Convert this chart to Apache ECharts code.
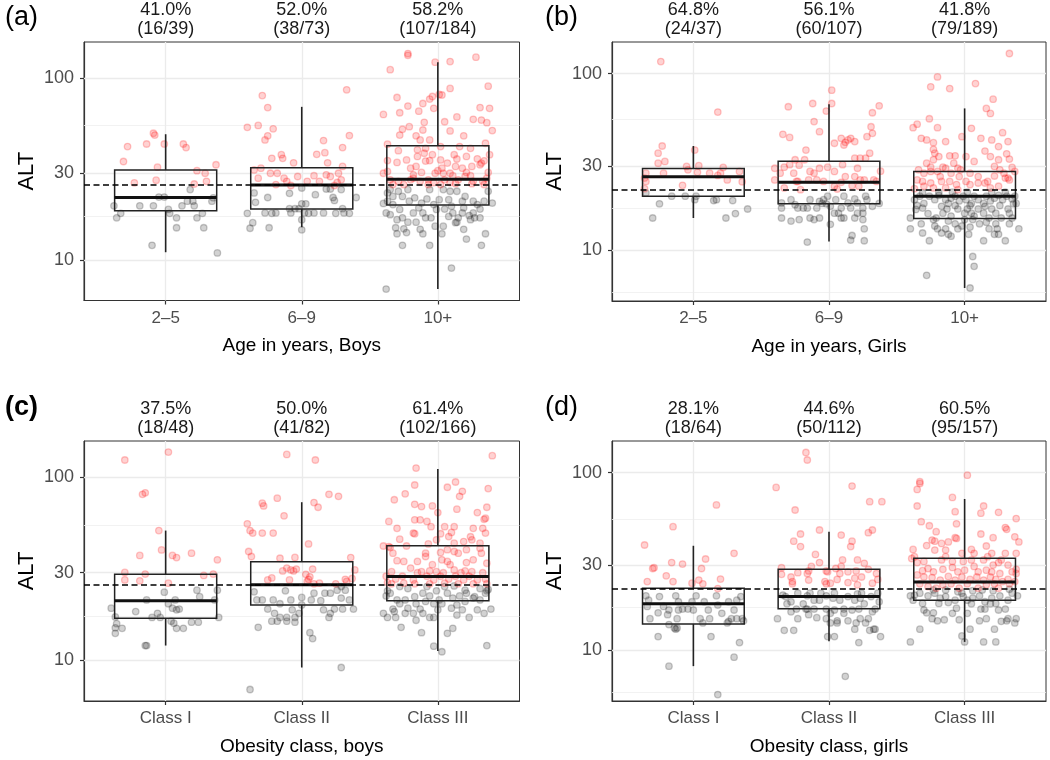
<!DOCTYPE html>
<html><head><meta charset="utf-8">
<script src="https://cdn.jsdelivr.net/npm/echarts@6/dist/echarts.min.js"></script>
<style>html,body{margin:0;padding:0;background:#fff}#chart{width:1050px;height:760px}</style>
</head><body><div id="chart"></div>
<script>
const ageCats = ['2–5', '6–9', '10+'];
const classCats = ['Class I', 'Class II', 'Class III'];
const aPct = ['41.0%', '52.0%', '58.2%'];  const aFrac = ['(16/39)', '(38/73)', '(107/184)'];
const bPct = ['64.8%', '56.1%', '41.8%'];  const bFrac = ['(24/37)', '(60/107)', '(79/189)'];
const cPct = ['37.5%', '50.0%', '61.4%'];  const cFrac = ['(18/48)', '(41/82)', '(102/166)'];
const dPct = ['28.1%', '44.6%', '60.5%'];  const dFrac = ['(18/64)', '(50/112)', '(95/157)'];
const thresholdBoys = 25.8;
const thresholdGirls = 22.1;
const yTicks = [10, 30, 100];
const yMinorBoys = [17.3, 54.8];
const yMinorGirls = [5.77, 17.3, 54.8];
// box stats per category: [lower whisker, Q1, median, Q3, upper whisker]
const aBox = [[11.0, 18.6, 22.0, 31.2, 49], [15.1, 19.0, 25.8, 32.1, 69.3], [6.9, 20.0, 27.7, 42.3, 122]];
const bBox = [[15.2, 20.2, 26.0, 29.0, 38.9], [11.2, 18.3, 24.2, 31.9, 67.1], [6.1, 15.1, 20.2, 27.9, 63.5]];
const cBox = [[12.0, 16.9, 21.1, 29.4, 51.0], [9.1, 20.0, 25.8, 34.5, 72.9], [11.2, 21.1, 28.6, 42.1, 110.7]];
const dBox = [[8.1, 14.0, 18.2, 22.3, 38.7], [11.2, 17.1, 20.0, 28.5, 46.4], [11.1, 19.1, 24.2, 32.9, 71.1]];
// individual children: [category, jitter, ALT]
const aElevated = [
[1,-0.09,49.6],[1,-0.08,48.5],[1,-0.28,41.9],[1,-0.14,43.3],[1,-0.01,43.3],[1,0.13,43.3],[1,0.15,41.4],[1,-0.31,34.7],[1,-0.06,32.3],[1,0.37,33.3],[1,0.23,30.9],[1,0.29,29.9],[1,-0.07,27.4],[1,0.30,27.0],[1,-0.23,26.5],[1,0.21,26.1],
[2,-0.29,79.9],[2,-0.25,68.7],[2,0.33,86],[2,-0.40,53.5],[2,-0.32,54.8],[2,-0.21,52.5],[2,-0.25,48.0],[2,-0.27,45.6],[2,0.35,48.2],[2,0.16,45.2],[2,0.30,41.4],[2,0.11,38.0],[2,0.17,38.8],[2,-0.22,36.1],[2,-0.15,37.8],[2,-0.14,36.1],[2,-0.06,34.1],[2,0.19,34.1],[2,0.30,32.6],[2,-0.35,31.2],[2,-0.30,31.9],[2,-0.23,29.9],[2,-0.18,29.9],[2,-0.32,28.1],[2,-0.13,28.1],[2,-0.03,28.7],[2,0.04,27.0],[2,0.13,27.0],[2,0.18,29.3],[2,0.21,28.7],[2,0.27,29.9],[2,0.29,27.5],[2,-0.19,25.9],[2,-0.11,27.0],[2,0.24,25.6],[2,0.26,26.6],[2,0.09,29.0],[2,-0.08,25.6],
[3,-0.22,136],[3,-0.22,133],[3,0.28,130],[3,-0.02,122],[3,0.09,123],[3,-0.35,111],[3,0.37,90],[3,0.09,87.5],[3,-0.30,78],[3,0.01,81],[3,0.03,80.5],[3,-0.04,79],[3,-0.06,76.5],[3,-0.11,72.3],[3,-0.22,70],[3,0.31,68.7],[3,0.38,68],[3,-0.14,65.6],[3,-0.40,63],[3,-0.28,64.3],[3,-0.03,68],[3,0.14,61],[3,0.05,57.4],[3,0.26,59.2],[3,0.32,58.6],[3,0.36,56.7],[3,-0.21,53.9],[3,-0.10,57],[3,-0.11,51.7],[3,0.09,51.1],[3,-0.26,52.2],[3,0.40,51.3],[3,-0.16,48],[3,0.19,48],[3,-0.28,48.5],[3,-0.06,45.6],[3,-0.13,45.6],[3,0.02,41.9],[3,-0.37,43.2],[3,-0.29,39.8],[3,-0.15,40.2],[3,-0.09,41],[3,-0.10,38.5],[3,-0.04,37.8],[3,0.12,37.8],[3,0.24,41],[3,0.38,37.8],[3,0.29,35.9],[3,-0.37,35.1],[3,-0.30,34.3],[3,-0.16,32.6],[3,-0.09,34.9],[3,-0.06,35.1],[3,0.02,35.4],[3,0.07,34],[3,0.14,35.8],[3,0.18,31.9],[3,0.25,32.6],[3,0.32,34],[3,0.34,35],[3,0.31,33.3],[3,-0.37,30.6],[3,-0.18,29.3],[3,-0.12,30.2],[3,-0.02,29.9],[3,0.00,30.9],[3,0.04,29.9],[3,0.09,29.9],[3,0.11,29.0],[3,0.21,30.2],[3,0.24,29.0],[3,0.37,30.2],[3,-0.35,27.5],[3,-0.29,27.0],[3,-0.25,25.9],[3,-0.20,27.5],[3,-0.13,27.0],[3,-0.07,27.5],[3,-0.03,26.6],[3,0.02,25.9],[3,0.05,27.5],[3,0.09,26.6],[3,0.15,27.5],[3,0.20,28.7],[3,0.26,27.0],[3,0.33,27.0],[3,0.36,28.1],[3,-0.33,25.9],[3,-0.07,25.9],[3,0.13,26.2],[3,0.25,26.2],[3,-0.18,28.1],[3,0.34,25.9],[3,-0.23,35.4],[3,-0.15,37.0],[3,0.16,41.9],[3,-0.40,29.9],[3,0.21,37.0],[3,0.35,43.7],[3,-0.20,31.9],[3,0.03,31.9],[3,0.13,32.6]
];
const aNormal = [
[1,-0.38,19.8],[1,-0.33,18.0],[1,-0.36,17.0],[1,-0.19,19.8],[1,-0.09,19.8],[1,-0.05,22.1],[1,0.02,18.9],[1,0.03,18.0],[1,0.08,17.0],[1,0.08,15.0],[1,-0.10,12.0],[1,0.16,21.0],[1,0.20,21.0],[1,0.21,19.8],[1,0.18,24.3],[1,0.23,17.0],[1,0.27,18.0],[1,0.28,15.0],[1,0.34,21.0],[1,0.35,21.9],[1,0.38,10.9],[1,-0.01,22.1],[1,0.12,19.8],
[2,-0.34,20.7],[2,-0.25,22.0],[2,-0.40,18.0],[2,-0.36,16.0],[2,-0.38,14.9],[2,-0.24,15.0],[2,-0.27,18.1],[2,-0.22,18.0],[2,-0.09,23.2],[2,-0.05,19.1],[2,0.00,20.3],[2,0.03,20.3],[2,-0.02,19.1],[2,0.02,18.1],[2,0.00,16.6],[2,0.00,14.6],[2,0.05,18.0],[2,0.09,18.1],[2,0.00,24.8],[2,0.10,22.8],[2,-0.09,19.1],[2,0.18,24.5],[2,0.21,24.5],[2,0.23,22.0],[2,0.24,21.2],[2,0.25,18.0],[2,0.30,19.1],[2,0.31,18.1],[2,0.35,18.0],[2,0.40,22.0],[2,0.16,18.1],[2,-0.08,18.1],[2,-0.19,18.1],[2,0.29,24.3],[2,-0.35,23.3],
[3,-0.38,6.9],[3,0.10,9.0],[3,-0.26,12.0],[3,-0.06,12.0],[3,0.32,12.0],[3,0.21,13.0],[3,0.35,13.9],[3,-0.30,13.9],[3,-0.11,13.9],[3,0.03,13.9],[3,0.13,16.0],[3,0.14,16.1],[3,-0.16,16.1],[3,-0.09,17.0],[3,-0.05,17.0],[3,-0.35,17.7],[3,-0.30,16.6],[3,-0.26,17.0],[3,-0.22,16.1],[3,-0.38,18.1],[3,-0.31,15.0],[3,-0.25,14.8],[3,-0.02,15.3],[3,0.05,19.0],[3,0.11,18.1],[3,0.23,17.5],[3,0.26,18.1],[3,0.27,17.0],[3,0.31,19.0],[3,0.34,21.0],[3,0.40,20.5],[3,0.37,23.8],[3,-0.37,21.0],[3,-0.33,22.3],[3,-0.29,23.8],[3,-0.40,20.4],[3,-0.26,22.3],[3,-0.21,21.0],[3,-0.17,21.9],[3,-0.12,20.5],[3,-0.14,19.3],[3,-0.08,21.6],[3,-0.03,20.1],[3,0.01,21.4],[3,0.04,24.3],[3,0.09,23.8],[3,0.14,23.8],[3,0.18,21.0],[3,0.20,22.3],[3,0.26,21.0],[3,-0.35,24.3],[3,-0.22,24.3],[3,-0.06,24.3],[3,0.08,21.4],[3,-0.01,18.9],[3,0.19,19.3],[3,-0.28,18.9],[3,-0.18,18.1],[3,-0.37,23.3],[3,0.29,20.1],[3,-0.11,18.1],[3,0.08,17.3],[3,0.15,17.0],[3,0.24,16.6],[3,-0.33,20.1],[3,-0.13,14.7],[3,0.04,15.3],[3,0.19,14.7],[3,-0.23,14.1],[3,0.31,17.0],[3,0.10,19.7],[3,0.18,18.1]
];
const bElevated = [
[1,-0.24,117],[1,0.18,60.5],[1,-0.23,38.9],[1,-0.26,35.4],[1,-0.21,31.8],[1,-0.26,31.1],[1,-0.22,27.3],[1,-0.35,27.3],[1,-0.35,24.5],[1,0.01,36.9],[1,-0.05,29.8],[1,-0.04,28.5],[1,0.04,30.1],[1,0.03,27.6],[1,-0.08,23.3],[1,0.22,29.4],[1,0.18,26.5],[1,0.20,27.3],[1,0.25,25.0],[1,0.34,27.9],[1,0.36,24.4],[1,-0.36,25.6],[1,0.12,27.3],[1,-0.36,22.3],
[2,0.02,80.5],[2,-0.30,64.9],[2,-0.12,67.7],[2,0.02,67.7],[2,-0.02,61.3],[2,0.37,65.7],[2,0.32,60.0],[2,-0.11,53.5],[2,-0.07,46.9],[2,0.31,50.0],[2,0.28,43.9],[2,0.32,45.9],[2,-0.34,45.3],[2,-0.29,43.5],[2,-0.17,36.9],[2,0.04,40.3],[2,0.09,43.0],[2,0.11,39.4],[2,0.14,42.1],[2,0.16,43.0],[2,0.19,41.2],[2,0.12,40.8],[2,0.30,35.4],[2,-0.33,29.5],[2,-0.40,29.1],[2,-0.40,25.0],[2,-0.29,30.5],[2,-0.25,32.5],[2,-0.22,30.3],[2,-0.18,32.5],[2,-0.26,27.3],[2,-0.23,24.5],[2,-0.21,22.0],[2,-0.07,29.1],[2,-0.09,25.0],[2,-0.01,29.5],[2,0.04,27.9],[2,0.10,30.5],[2,0.19,33.2],[2,0.23,33.2],[2,0.27,33.2],[2,0.21,29.1],[2,0.12,26.1],[2,0.19,26.1],[2,0.23,25.0],[2,0.26,25.0],[2,0.33,25.0],[2,0.38,28.0],[2,-0.36,27.3],[2,0.04,23.0],[2,0.09,24.2],[2,-0.15,25.0],[2,-0.24,24.5],[2,-0.11,27.3],[2,0.35,24.5],[2,0.22,23.0],[2,-0.33,22.5],[2,0.06,22.2],[2,-0.04,24.5],[2,-0.14,27.9],[2,0.17,23.2],
[3,0.33,130],[3,-0.20,95.8],[3,-0.25,84.1],[3,-0.11,82.3],[3,0.08,87.8],[3,0.21,71.6],[3,0.16,63.5],[3,0.19,59.5],[3,-0.26,55.5],[3,-0.38,49.4],[3,-0.35,51.7],[3,-0.20,49.4],[3,0.05,49.0],[3,0.28,46.3],[3,-0.32,43.0],[3,-0.28,42.1],[3,-0.23,40.6],[3,-0.14,41.2],[3,-0.02,43.9],[3,0.12,43.0],[3,0.20,42.1],[3,0.25,38.6],[3,0.32,41.2],[3,-0.23,37.2],[3,-0.22,35.4],[3,-0.19,33.9],[3,-0.11,34.2],[3,-0.07,34.2],[3,0.07,31.8],[3,0.15,36.4],[3,0.19,33.9],[3,0.31,35.1],[3,0.33,32.8],[3,-0.23,32.5],[3,-0.28,31.1],[3,-0.25,29.5],[3,-0.16,29.5],[3,-0.14,29.1],[3,-0.05,29.1],[3,-0.03,28.5],[3,-0.30,27.3],[3,-0.25,27.9],[3,-0.10,27.3],[3,-0.04,26.1],[3,0.04,27.3],[3,0.22,29.8],[3,0.26,28.5],[3,0.29,27.3],[3,0.35,29.4],[3,0.30,25.6],[3,0.32,25.6],[3,-0.31,24.5],[3,-0.25,24.0],[3,-0.17,24.5],[3,-0.11,24.5],[3,-0.06,23.5],[3,0.01,24.5],[3,0.04,23.5],[3,0.10,24.0],[3,0.15,24.0],[3,0.17,24.5],[3,-0.37,22.3],[3,-0.30,23.0],[3,-0.23,22.5],[3,-0.14,22.5],[3,-0.05,22.0],[3,0.19,22.5],[3,0.25,23.0],[3,0.37,27.9],[3,-0.18,26.1],[3,0.10,26.1],[3,0.25,32.5],[3,-0.34,28.5],[3,0.01,33.9],[3,-0.08,31.1],[3,0.22,26.3],[3,-0.20,27.9],[3,0.33,25.0],[3,-0.35,25.0]
];
const bNormal = [
[1,-0.30,15.2],[1,-0.25,18.3],[1,-0.16,20.2],[1,-0.06,20.2],[1,0.01,19.3],[1,0.15,19.1],[1,0.17,19.3],[1,0.24,15.2],[1,0.29,19.1],[1,0.31,16.1],[1,0.40,17.1],[1,-0.35,21.1],[1,0.02,20.2],
[2,-0.16,11.1],[2,0.17,12.1],[2,0.16,11.4],[2,0.26,11.3],[2,0.26,13.2],[2,0.01,14.0],[2,-0.07,15.2],[2,-0.14,15.2],[2,-0.35,15.2],[2,-0.28,14.6],[2,-0.35,17.3],[2,-0.23,17.3],[2,-0.16,17.3],[2,-0.09,17.3],[2,0.11,15.2],[2,0.19,15.2],[2,0.07,16.2],[2,-0.04,19.3],[2,-0.01,20.2],[2,-0.05,18.4],[2,-0.02,18.3],[2,0.09,17.3],[2,0.11,20.2],[2,0.16,17.3],[2,0.19,19.5],[2,0.21,18.5],[2,0.25,17.3],[2,0.27,20.2],[2,0.28,19.3],[2,0.25,16.2],[2,0.37,18.4],[2,-0.14,19.3],[2,-0.19,17.3],[2,-0.28,19.3],[2,-0.35,18.5],[2,-0.25,18.1],[2,0.21,16.2],[2,0.25,14.9],[2,-0.11,14.9],[2,0.04,16.2],[2,0.09,15.2],[2,-0.07,18.9],[2,0.01,17.7],[2,0.14,18.5],[2,0.32,17.7],[2,-0.22,14.9],[2,0.05,19.3],
[3,0.04,6.1],[3,-0.28,7.2],[3,0.07,8.1],[3,0.06,9.2],[3,-0.26,11.3],[3,-0.10,12.0],[3,0.14,11.3],[3,0.30,11.3],[3,0.03,12.3],[3,0.04,13.5],[3,-0.05,13.2],[3,-0.02,13.7],[3,-0.12,12.3],[3,0.22,12.3],[3,-0.40,13.2],[3,-0.32,14.1],[3,-0.23,14.9],[3,-0.20,13.2],[3,-0.14,13.2],[3,-0.07,14.1],[3,0.06,14.9],[3,0.11,14.1],[3,0.18,13.2],[3,0.24,13.2],[3,0.25,12.3],[3,0.33,14.1],[3,0.35,15.2],[3,0.40,13.2],[3,-0.36,17.0],[3,-0.40,15.2],[3,-0.31,17.3],[3,-0.27,16.1],[3,-0.21,15.2],[3,-0.16,16.2],[3,-0.13,17.1],[3,-0.10,15.6],[3,-0.05,17.1],[3,0.00,16.2],[3,0.02,17.1],[3,0.07,15.6],[3,0.05,16.2],[3,0.10,17.1],[3,0.14,16.2],[3,0.18,15.2],[3,0.20,17.1],[3,0.23,16.2],[3,0.27,15.2],[3,0.32,17.1],[3,0.36,18.3],[3,0.38,18.4],[3,-0.37,19.3],[3,-0.33,20.2],[3,-0.30,18.4],[3,-0.26,20.2],[3,-0.22,19.3],[3,-0.19,20.4],[3,-0.14,19.3],[3,-0.12,18.4],[3,-0.10,19.7],[3,-0.07,20.2],[3,-0.04,19.0],[3,-0.01,20.2],[3,0.01,19.3],[3,0.05,18.4],[3,0.07,20.2],[3,0.10,19.3],[3,0.14,18.4],[3,0.16,20.2],[3,0.19,19.0],[3,0.22,19.7],[3,0.25,20.4],[3,0.28,19.3],[3,0.31,20.2],[3,0.35,19.5],[3,0.37,20.2],[3,-0.35,17.9],[3,-0.17,17.7],[3,-0.07,17.9],[3,0.04,17.9],[3,0.15,17.7],[3,0.26,17.9],[3,0.33,16.2],[3,-0.31,21.1],[3,-0.19,21.3],[3,-0.09,21.3],[3,0.02,21.3],[3,0.20,21.3],[3,0.30,21.3],[3,-0.12,14.6],[3,0.00,14.9],[3,0.16,14.4],[3,0.23,14.1],[3,-0.22,13.7],[3,-0.17,12.5],[3,-0.31,12.5]
];
const cElevated = [
[1,-0.30,124],[1,0.02,137],[1,-0.17,80.5],[1,-0.15,82],[1,-0.05,51],[1,-0.03,40],[1,-0.19,37.3],[1,0.05,37.3],[1,0.08,36.3],[1,0.19,38.4],[1,0.38,35.3],[1,-0.30,30.1],[1,-0.15,29.5],[1,0.28,29.0],[1,0.35,29.5],[1,-0.30,27.4],[1,-0.19,27.1],[1,0.02,26.3],
[2,-0.11,133],[2,0.10,124],[2,-0.29,72],[2,-0.18,76.7],[2,0.20,80.5],[2,0.27,78.5],[2,0.09,72.6],[2,0.12,68.4],[2,-0.13,61.4],[2,-0.28,69.6],[2,-0.40,55.5],[2,-0.38,51],[2,-0.36,49.4],[2,-0.29,49.4],[2,-0.21,49.4],[2,0.05,43.1],[2,-0.39,39.2],[2,-0.37,36.8],[2,-0.16,36.0],[2,-0.05,36.4],[2,-0.11,31.8],[2,-0.06,30.7],[2,-0.08,31.1],[2,-0.04,31.4],[2,-0.14,30.7],[2,0.03,29.4],[2,0.08,31.4],[2,0.36,36.3],[2,0.39,31.1],[2,0.37,27.9],[2,0.32,27.6],[2,-0.22,28.1],[2,-0.25,27.4],[2,0.05,27.6],[2,0.04,26.9],[2,0.13,26.3],[2,0.09,26.1],[2,0.25,26.1],[2,0.33,26.9],[2,0.06,28.5],[2,-0.09,27.4],
[3,0.40,131],[3,-0.16,112],[3,0.13,94],[3,0.07,88],[3,-0.17,90.5],[3,0.37,86.5],[3,0.18,83.6],[3,0.16,78.5],[3,-0.24,81],[3,-0.32,75.2],[3,-0.17,71],[3,-0.12,69],[3,-0.04,69.6],[3,0.00,64],[3,0.14,66.8],[3,0.29,64],[3,0.36,68.4],[3,0.35,59.6],[3,0.34,58.8],[3,-0.36,57.2],[3,-0.17,58.4],[3,-0.13,58.4],[3,-0.08,57.2],[3,-0.30,52.5],[3,0.05,53.6],[3,0.12,53.6],[3,0.26,52.5],[3,0.33,52.5],[3,-0.18,49.4],[3,-0.17,49],[3,0.02,49],[3,0.10,49.8],[3,0.24,47.2],[3,0.35,49.4],[3,-0.40,42],[3,-0.35,41.2],[3,-0.28,45.8],[3,-0.23,42],[3,-0.07,43.1],[3,-0.01,45.4],[3,0.08,47.3],[3,0.12,43.5],[3,0.19,44.4],[3,0.25,45.4],[3,0.31,43.5],[3,0.31,40.8],[3,0.32,38.4],[3,-0.33,38.4],[3,-0.09,38.4],[3,0.02,38.7],[3,0.12,39.2],[3,0.07,40.1],[3,0.15,38.4],[3,0.21,40.1],[3,-0.30,34.9],[3,-0.25,34.6],[3,-0.15,34.6],[3,-0.09,36.8],[3,-0.04,33.2],[3,0.07,34.6],[3,0.09,33.2],[3,0.21,34.1],[3,0.26,35.3],[3,0.36,33.8],[3,-0.34,30.4],[3,-0.20,31.8],[3,-0.12,30.4],[3,-0.06,30.7],[3,-0.01,30.4],[3,0.04,30.0],[3,0.12,31.1],[3,0.17,30.0],[3,0.20,30.7],[3,0.25,30.4],[3,0.33,30.0],[3,-0.38,28.7],[3,-0.31,27.7],[3,-0.26,28.7],[3,-0.18,27.4],[3,-0.15,30.0],[3,-0.08,28.7],[3,-0.03,27.4],[3,0.02,28.7],[3,0.08,27.7],[3,0.13,28.7],[3,0.19,27.4],[3,0.23,28.7],[3,0.29,27.4],[3,0.35,27.7],[3,0.36,26.1],[3,-0.37,26.5],[3,-0.34,26.1],[3,-0.25,26.3],[3,-0.17,26.1],[3,-0.06,26.1],[3,0.05,26.3],[3,0.15,26.1],[3,0.26,26.1],[3,-0.36,41.7],[3,0.03,35.3],[3,-0.05,53.6]
];
const cNormal = [
[1,-0.15,12.0],[1,-0.14,12.0],[1,-0.37,14.0],[1,-0.32,14.9],[1,-0.36,15.8],[1,-0.40,19.2],[1,-0.37,17.2],[1,-0.22,18.4],[1,-0.14,21.3],[1,-0.06,18.0],[1,-0.04,17.1],[1,-0.01,23.5],[1,0.02,20.3],[1,0.05,19.2],[1,0.08,18.8],[1,0.10,19.0],[1,0.04,16.3],[1,0.06,15.9],[1,0.08,14.9],[1,0.13,14.9],[1,0.19,16.1],[1,0.24,16.1],[1,0.23,24.1],[1,0.25,22.2],[1,0.36,21.3],[1,0.38,24.1],[1,0.39,17.1],[1,-0.37,15.0],[1,-0.10,17.1],[1,0.07,21.3],
[2,-0.38,6.9],[2,0.29,9.1],[2,0.06,14.1],[2,0.08,13.1],[2,-0.32,15.1],[2,-0.22,16.3],[2,-0.18,16.3],[2,-0.16,17.1],[2,-0.11,17.1],[2,-0.05,17.1],[2,-0.11,16.3],[2,-0.05,16.1],[2,0.20,17.1],[2,0.21,18.0],[2,-0.29,21.3],[2,-0.25,19.0],[2,-0.21,21.3],[2,-0.16,20.3],[2,-0.12,23.9],[2,-0.08,21.3],[2,0.00,22.0],[2,0.00,20.0],[2,0.07,21.3],[2,0.14,21.1],[2,0.16,18.8],[2,0.24,19.0],[2,0.21,23.2],[2,0.26,24.1],[2,0.29,25.2],[2,0.30,19.0],[2,0.35,21.3],[2,0.38,19.0],[2,0.29,21.8],[2,0.32,24.1],[2,-0.35,23.6],[2,-0.33,21.3],[2,0.09,23.2],[2,-0.02,18.0],[2,0.17,23.2],[2,-0.20,18.0],[2,-0.07,18.8],
[3,0.03,11.1],[3,-0.03,11.9],[3,0.36,12.0],[3,-0.12,14.1],[3,0.11,14.9],[3,-0.27,15.1],[3,0.07,14.0],[3,0.23,17.1],[3,0.34,18.0],[3,0.39,19.0],[3,-0.37,17.1],[3,-0.31,17.1],[3,-0.24,18.0],[3,-0.18,18.0],[3,-0.13,19.0],[3,-0.11,18.0],[3,-0.06,17.1],[3,-0.03,17.1],[3,-0.40,18.0],[3,-0.33,19.0],[3,-0.28,20.3],[3,-0.22,19.2],[3,-0.16,20.3],[3,-0.09,20.9],[3,-0.03,20.3],[3,0.03,20.3],[3,0.10,19.2],[3,0.14,20.0],[3,0.20,20.9],[3,0.26,21.8],[3,0.31,21.3],[3,-0.38,22.4],[3,-0.35,23.2],[3,-0.30,21.3],[3,-0.24,21.3],[3,-0.17,22.2],[3,-0.11,23.2],[3,-0.06,22.4],[3,0.01,21.3],[3,0.07,23.2],[3,0.11,21.8],[3,0.16,22.4],[3,0.21,23.2],[3,0.27,22.2],[3,0.35,23.2],[3,0.37,24.3],[3,-0.37,23.9],[3,-0.22,24.6],[3,-0.08,25.2],[3,-0.01,23.9],[3,0.05,25.2],[3,0.12,25.4],[3,0.20,24.1],[3,0.31,24.6],[3,0.36,23.9],[3,-0.32,18.4],[3,0.00,18.8],[3,0.18,18.8],[3,0.29,18.8],[3,0.14,17.6],[3,-0.16,16.5],[3,-0.28,25.2]
];
const dElevated = [
[1,0.17,65.8],[1,-0.15,49.6],[1,-0.36,39.1],[1,0.30,35.1],[1,0.09,32.6],[1,-0.16,31.1],[1,-0.08,30.5],[1,0.06,28.8],[1,-0.30,28.8],[1,-0.29,29.1],[1,-0.20,26.2],[1,0.20,25.1],[1,0.04,24.8],[1,-0.34,24.3],[1,-0.15,24.3],[1,0.07,23.6],[1,0.18,22.2],[1,-0.01,23.8],
[2,-0.17,130],[2,-0.16,118],[2,-0.39,82.6],[2,0.17,84.1],[2,0.30,68.6],[2,0.39,68.6],[2,-0.25,61.6],[2,-0.07,47.5],[2,-0.21,45.1],[2,0.32,47.5],[2,0.29,45.9],[2,0.09,44.5],[2,-0.26,41.1],[2,-0.21,38.3],[2,0.17,41.1],[2,0.16,38.3],[2,-0.10,34.6],[2,-0.07,31.1],[2,-0.13,29.6],[2,0.10,32.2],[2,0.21,32.2],[2,0.26,30.8],[2,0.09,29.6],[2,0.05,28.8],[2,-0.35,29.1],[2,-0.35,26.7],[2,-0.28,25.8],[2,-0.23,27.3],[2,-0.16,27.0],[2,-0.15,27.9],[2,-0.02,27.9],[2,-0.01,27.6],[2,0.08,27.0],[2,0.14,27.6],[2,0.20,27.9],[2,0.24,25.8],[2,0.29,28.5],[2,0.35,27.0],[2,0.36,25.0],[2,0.32,23.8],[2,-0.03,24.3],[2,-0.02,23.6],[2,0.01,23.8],[2,0.14,24.0],[2,0.21,23.3],[2,-0.27,24.3],[2,-0.27,23.6],[2,-0.15,24.8],[2,0.06,25.0],[2,0.19,25.4],
[3,0.02,96.8],[3,-0.33,89],[3,-0.35,80.5],[3,-0.33,87],[3,-0.09,72.5],[3,-0.35,64.9],[3,0.14,64.9],[3,0.12,59.1],[3,-0.07,60.3],[3,0.25,59.8],[3,0.38,55.1],[3,-0.32,52.9],[3,-0.26,50.2],[3,-0.06,51.5],[3,0.30,49.0],[3,0.31,47.9],[3,-0.07,43.0],[3,-0.06,42.6],[3,-0.24,41.7],[3,-0.22,41.1],[3,-0.17,39.9],[3,-0.12,40.7],[3,0.12,45.1],[3,0.21,43.0],[3,0.37,43.5],[3,0.40,40.7],[3,-0.38,36.9],[3,-0.28,38.8],[3,-0.22,36.6],[3,-0.14,36.6],[3,0.05,36.9],[3,0.16,38.6],[3,0.20,35.1],[3,0.30,35.1],[3,0.38,35.1],[3,-0.17,32.2],[3,-0.09,31.6],[3,-0.01,31.6],[3,0.05,32.2],[3,0.14,32.2],[3,0.21,30.1],[3,0.27,32.2],[3,0.32,30.1],[3,-0.35,31.1],[3,-0.37,33.6],[3,-0.31,28.0],[3,-0.27,28.8],[3,-0.23,27.6],[3,-0.16,28.5],[3,-0.09,29.2],[3,-0.05,27.6],[3,0.00,28.2],[3,0.07,29.6],[3,0.10,27.6],[3,0.16,28.2],[3,0.20,27.6],[3,0.26,27.0],[3,0.35,27.6],[3,0.38,28.5],[3,-0.35,26.5],[3,-0.30,25.8],[3,-0.24,25.6],[3,-0.18,24.8],[3,-0.12,26.0],[3,-0.07,24.8],[3,-0.02,25.8],[3,0.04,25.0],[3,0.09,25.8],[3,0.14,24.8],[3,0.19,25.8],[3,0.23,25.0],[3,0.28,24.3],[3,0.32,25.0],[3,0.37,24.3],[3,0.38,27.0],[3,-0.33,23.6],[3,-0.27,22.8],[3,-0.21,22.3],[3,-0.16,23.3],[3,-0.10,23.6],[3,-0.04,22.3],[3,0.02,23.6],[3,0.10,22.3],[3,0.16,23.3],[3,0.22,23.6],[3,0.25,22.3],[3,0.33,23.6],[3,-0.39,32.8],[3,-0.14,33.6],[3,0.07,35.1],[3,0.25,31.1],[3,-0.21,46.5],[3,-0.02,35.1],[3,0.17,33.6],[3,-0.30,31.6]
];
const dNormal = [
[1,0.18,5.6],[1,-0.18,8.1],[1,0.30,9.1],[1,0.34,11.0],[1,0.13,11.9],[1,-0.26,11.9],[1,-0.13,13.1],[1,-0.14,13.3],[1,-0.32,15.0],[1,-0.26,16.2],[1,-0.19,15.8],[1,-0.18,16.8],[1,-0.12,15.0],[1,-0.11,16.8],[1,-0.18,13.9],[1,-0.12,13.3],[1,-0.04,17.0],[1,0.00,16.8],[1,0.02,20.2],[1,0.05,15.0],[1,0.08,18.7],[1,0.07,14.2],[1,0.12,15.0],[1,0.17,20.2],[1,0.18,17.9],[1,0.25,14.2],[1,0.26,14.5],[1,0.28,15.0],[1,0.30,16.8],[1,0.32,19.1],[1,0.35,20.0],[1,0.36,15.0],[1,0.37,14.6],[1,-0.35,20.2],[1,-0.33,19.1],[1,-0.25,20.0],[1,-0.13,20.2],[1,-0.08,17.0],[1,-0.11,18.7],[1,-0.01,18.7],[1,0.21,16.1],[1,0.26,18.7],[1,-0.34,17.6],[1,-0.22,17.6],[1,0.11,16.8],[1,0.32,15.0],
[2,0.12,7.1],[2,-0.01,11.9],[2,0.04,11.9],[2,0.22,11.0],[2,-0.33,12.9],[2,-0.26,12.9],[2,0.38,11.9],[2,0.30,12.9],[2,0.33,13.1],[2,0.34,13.1],[2,0.19,13.1],[2,0.27,14.2],[2,0.20,14.2],[2,0.06,14.2],[2,0.01,14.2],[2,-0.02,15.0],[2,0.01,16.1],[2,0.23,15.0],[2,0.29,15.0],[2,-0.23,15.0],[2,-0.38,15.0],[2,-0.28,16.4],[2,-0.24,17.0],[2,-0.17,17.0],[2,-0.16,17.0],[2,-0.11,17.0],[2,-0.02,17.0],[2,0.04,16.8],[2,0.11,17.0],[2,0.17,16.8],[2,0.22,17.0],[2,0.34,17.0],[2,-0.34,20.4],[2,-0.32,20.0],[2,-0.28,18.7],[2,-0.23,20.9],[2,-0.16,20.2],[2,-0.11,19.1],[2,-0.07,19.1],[2,-0.02,20.2],[2,0.03,19.6],[2,0.08,19.1],[2,0.14,20.0],[2,0.19,19.1],[2,0.23,19.6],[2,0.31,20.0],[2,0.36,20.9],[2,0.37,18.7],[2,-0.14,20.9],[2,0.04,20.9],[2,0.21,20.7],[2,0.26,18.2],[2,0.11,16.1],[2,-0.09,15.2],[2,0.32,16.4],[2,-0.31,18.2],[2,-0.19,18.2],[2,-0.06,20.9],[2,0.14,14.6],[2,-0.15,15.8],[2,0.24,20.9],[2,0.06,14.6],
[3,-0.40,11.1],[3,0.00,11.1],[3,0.14,11.1],[3,0.23,11.1],[3,-0.02,12.0],[3,0.04,13.1],[3,-0.33,13.1],[3,0.22,13.1],[3,-0.04,14.8],[3,-0.15,14.8],[3,-0.24,15.0],[3,0.37,14.2],[3,0.31,14.6],[3,0.32,15.0],[3,0.16,15.0],[3,0.27,14.5],[3,-0.28,16.2],[3,-0.31,18.3],[3,-0.23,16.2],[3,-0.19,18.3],[3,-0.12,18.5],[3,-0.06,17.2],[3,0.05,18.2],[3,0.12,17.0],[3,0.15,17.0],[3,0.19,18.2],[3,0.25,16.8],[3,0.30,17.0],[3,0.38,15.0],[3,-0.38,19.1],[3,-0.37,20.4],[3,-0.33,20.9],[3,-0.27,20.2],[3,-0.22,20.9],[3,-0.18,19.6],[3,-0.14,20.0],[3,-0.07,19.1],[3,-0.01,20.0],[3,0.02,19.1],[3,0.06,19.6],[3,0.11,20.2],[3,0.15,18.7],[3,0.20,19.6],[3,0.26,20.2],[3,0.32,19.1],[3,0.35,20.9],[3,0.39,20.2],[3,-0.23,21.8],[3,-0.14,21.8],[3,-0.05,21.3],[3,0.06,21.6],[3,0.13,21.8],[3,0.21,21.6],[3,0.33,22.0],[3,-0.20,14.6],[3,0.02,16.1],[3,0.11,14.6],[3,-0.30,16.8],[3,-0.09,16.1],[3,0.23,18.3],[3,-0.40,20.2],[3,-0.02,20.9]
];

const FONT = '"Liberation Sans", Arial, Helvetica, sans-serif';
const panels = [
  {grid: {left: 84, top: 42, width: 435.5, height: 258.5}, cats: ageCats, pct: aPct, frac: aFrac, box: aBox, elev: aElevated, norm: aNormal, thr: thresholdBoys, ymin: 5.97, ymax: 157.5, minor: yMinorBoys, xname: 'Age in years, Boys', tag: '(a)', tagX: 5, tagY: 4, bold: false},
  {grid: {left: 612, top: 42, width: 434, height: 259}, cats: ageCats, pct: bPct, frac: bFrac, box: bBox, elev: bElevated, norm: bNormal, thr: thresholdGirls, ymin: 5.15, ymax: 151, minor: yMinorGirls, xname: 'Age in years, Girls', tag: '(b)', tagX: 545, tagY: 4, bold: false},
  {grid: {left: 84, top: 441, width: 435.5, height: 260}, cats: classCats, pct: cPct, frac: cFrac, box: cBox, elev: cElevated, norm: cNormal, thr: thresholdBoys, ymin: 5.97, ymax: 157.5, minor: yMinorBoys, xname: 'Obesity class, boys', tag: '(c)', tagX: 5, tagY: 394, bold: true},
  {grid: {left: 612, top: 441, width: 434, height: 260}, cats: classCats, pct: dPct, frac: dFrac, box: dBox, elev: dElevated, norm: dNormal, thr: thresholdGirls, ymin: 5.15, ymax: 151, minor: yMinorGirls, xname: 'Obesity class, girls', tag: '(d)', tagX: 545, tagY: 394, bold: false}
];

const option = {animation: false, backgroundColor: '#fff', textStyle: {fontFamily: FONT}, grid: [], xAxis: [], yAxis: [], series: [], graphic: []};

panels.forEach((p, i) => {
  option.grid.push(Object.assign({show: true, borderColor: '#333', borderWidth: 1, backgroundColor: '#fff'}, p.grid));
  option.xAxis.push({
    type: 'value', gridIndex: i, min: 0.4, max: 3.6, position: 'bottom',
    axisLine: {show: true, onZero: false, lineStyle: {color: '#333', width: 1.2}},
    axisTick: {show: true, customValues: [1, 2, 3], length: 4, lineStyle: {color: '#333', width: 1.2}},
    axisLabel: {customValues: [1, 2, 3], formatter: v => p.cats[Math.round(v) - 1], fontSize: 17, color: '#4D4D4D', margin: 9, fontFamily: FONT},
    splitLine: {show: false},
    name: p.xname, nameLocation: 'middle', nameGap: 36,
    nameTextStyle: {fontSize: 19, color: '#000', fontFamily: FONT}
  });
  option.yAxis.push({
    type: 'log', logBase: 10, gridIndex: i, min: p.ymin, max: p.ymax,
    axisLine: {show: true, onZero: false, lineStyle: {color: '#333', width: 1.2}},
    axisTick: {show: true, customValues: yTicks, length: 4, lineStyle: {color: '#333', width: 1.2}},
    axisLabel: {customValues: yTicks, formatter: v => String(Math.round(v)), fontSize: 18, color: '#4D4D4D', margin: 10, fontFamily: FONT},
    splitLine: {show: false}, minorTick: {show: false}, minorSplitLine: {show: false},
    name: 'ALT', nameLocation: 'middle', nameGap: 46, nameRotate: 90,
    nameTextStyle: {fontSize: 22, color: '#000', fontFamily: FONT}
  });
  option.graphic.push({type: 'text', left: p.tagX, top: p.tagY, silent: true,
    style: {text: p.tag, font: (p.bold ? 'bold ' : '') + '27px ' + FONT, fill: '#000'}});
});
panels.forEach((p, i) => {
  option.xAxis.push({
    type: 'value', gridIndex: i, min: 0.4, max: 3.6, position: 'top',
    axisLine: {show: false}, axisTick: {show: false}, splitLine: {show: false},
    axisLabel: {customValues: [1, 2, 3], formatter: v => { const k = Math.round(v) - 1; return p.pct[k] + '\n' + p.frac[k]; },
      fontSize: 18, lineHeight: 19.5, color: '#1a1a1a', margin: 3, fontFamily: FONT}
  });
});

panels.forEach((p, i) => {
  const gridLines = [];
  yTicks.forEach(v => gridLines.push({yAxis: v, lineStyle: {color: '#EBEBEB', width: 1.3, type: 'solid'}}));
  p.minor.forEach(v => gridLines.push({yAxis: v, lineStyle: {color: '#EFEFEF', width: 0.8, type: 'solid'}}));
  [1, 2, 3].forEach(v => gridLines.push({xAxis: v, lineStyle: {color: '#EBEBEB', width: 1.3, type: 'solid'}}));
  option.series.push({type: 'line', xAxisIndex: i, yAxisIndex: i, data: [], silent: true, z: 1,
    markLine: {z: 1, silent: true, symbol: 'none', animation: false, label: {show: false}, data: gridLines}});
  option.series.push({type: 'scatter', xAxisIndex: i, yAxisIndex: i, silent: true, z: 3, symbolSize: 6.5,
    data: p.norm.map(d => [d[0] + d[1], d[2]]),
    itemStyle: {color: 'rgba(0,0,0,0.22)', borderColor: 'rgba(0,0,0,0.26)', borderWidth: 1.3}});
  option.series.push({type: 'scatter', xAxisIndex: i, yAxisIndex: i, silent: true, z: 3, symbolSize: 6.5,
    data: p.elev.map(d => [d[0] + d[1], d[2]]),
    itemStyle: {color: 'rgba(255,0,0,0.22)', borderColor: 'rgba(255,0,0,0.28)', borderWidth: 1.3}});
  option.series.push({type: 'custom', xAxisIndex: i, yAxisIndex: i, silent: true, z: 4, clip: false,
    data: p.box.map((b, k) => [k + 1].concat(b)),
    encode: {x: 0, y: [1, 2, 3, 4, 5]},
    renderItem: (params, api) => {
      const x = api.value(0);
      const pt = j => api.coord([x, api.value(j)]);
      const lo = pt(1), q1 = pt(2), md = pt(3), q3 = pt(4), hi = pt(5);
      const xl = api.coord([x - 0.375, api.value(3)])[0];
      const xr = api.coord([x + 0.375, api.value(3)])[0];
      const st = {stroke: '#222', lineWidth: 1.5, fill: 'transparent'};
      return {type: 'group', children: [
        {type: 'line', shape: {x1: hi[0], y1: hi[1], x2: q3[0], y2: q3[1]}, style: {stroke: '#222', lineWidth: 1.6}},
        {type: 'line', shape: {x1: q1[0], y1: q1[1], x2: lo[0], y2: lo[1]}, style: {stroke: '#222', lineWidth: 1.6}},
        {type: 'rect', shape: {x: xl, y: q3[1], width: xr - xl, height: q1[1] - q3[1]}, style: st},
        {type: 'line', shape: {x1: xl, y1: md[1], x2: xr, y2: md[1]}, style: {stroke: '#111', lineWidth: 3}}
      ]};
    }});
  option.series.push({type: 'line', xAxisIndex: i, yAxisIndex: i, data: [], silent: true, z: 6,
    markLine: {z: 10, silent: true, symbol: 'none', animation: false, label: {show: false},
      data: [{yAxis: p.thr, lineStyle: {color: '#000', width: 1.7, type: [6, 3.5]}}]}});
});

const chart = echarts.init(document.getElementById('chart'), null, {renderer: 'canvas'});
chart.setOption(option);
</script>
</body></html>
